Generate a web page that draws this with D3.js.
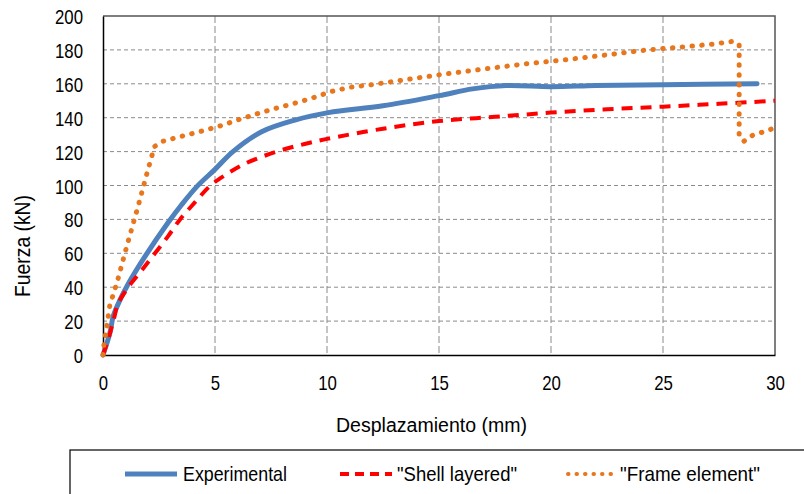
<!DOCTYPE html>
<html><head><meta charset="utf-8">
<script src="https://cdn.jsdelivr.net/npm/d3@7"></script>
<style>
html,body{margin:0;padding:0;background:#fff;}
svg{display:block;}
text{font-family:"Liberation Sans Narrow","Liberation Sans",Arial,sans-serif;fill:#000;}
</style></head>
<body>
<svg id="chart" width="804" height="494"></svg>
<script>
// ---- data ----
const xTicks = [0, 5, 10, 15, 20, 25, 30];
const yTicks = [0, 20, 40, 60, 80, 100, 120, 140, 160, 180, 200];
const seriesNames = ["Experimental", "\"Shell layered\"", "\"Frame element\""];

const expX = [0, 0.15, 0.31, 0.46, 0.76, 1.13, 1.87, 2.9, 3.5, 4.2, 5, 5.8, 7.08, 8.57, 10.06, 12.5, 15, 16.5, 18, 20, 22, 25, 29.2];
const expY = [0, 6, 13, 23, 32.5, 42, 58, 78, 88.5, 99.5, 109.5, 120, 131.7, 138.6, 143, 147, 153, 157, 159, 158.3, 159, 159.5, 160];

const shellX = [0, 0.25, 0.5, 0.66, 1.13, 1.73, 2.32, 2.9, 3.44, 4.1, 4.8, 5.5, 6.2, 7, 8, 9, 10, 12.5, 15, 17.5, 20, 22.5, 25, 27.5, 30];
const shellY = [0, 10, 22, 30, 40, 50, 60, 70, 80, 90, 100, 106.5, 112, 116.5, 121, 124.5, 127.5, 133.5, 138, 140.5, 143, 145, 146.5, 148.2, 150];

const frameX = [0, 0.05, 0.15, 0.3, 0.65, 1.1, 1.55, 2.0, 2.3, 2.65, 3.5, 4.3, 5.2, 6.0, 6.8, 7.7, 8.5, 9.3, 10.2, 11, 12, 13.6, 15.3, 17, 18.7, 20.4, 22.2, 24.3, 26, 27.3, 28.1, 28.4, 28.4, 28.6, 29, 29.4, 30];
const frameY = [0, 7, 15, 29, 44, 66, 87, 109, 123, 126, 129, 131.7, 135, 138.6, 142, 145.5, 148.3, 151.4, 155.5, 157.9, 159.5, 162.6, 165.8, 168.7, 171.5, 173.8, 176.6, 180, 181.9, 183.5, 185, 183.3, 130, 126, 129.6, 131.3, 134];

// ---- layout ----
const svg = d3.select("#chart");
const L = 103, R = 775, T = 16, B = 355;
const x = d3.scaleLinear().domain([0, 30]).range([L, R]);
const y = d3.scaleLinear().domain([0, 200]).range([B, T]);

function squeeze(sel, factor) {
  sel.each(function () {
    const w = this.getComputedTextLength();
    d3.select(this).attr("textLength", (w * factor).toFixed(1)).attr("lengthAdjust", "spacingAndGlyphs");
  });
}
function fitTo(sel, len) {
  sel.attr("textLength", len).attr("lengthAdjust", "spacingAndGlyphs");
}

// grid
const g = svg.append("g");
g.selectAll(".hg").data(yTicks.filter(v => v > 0 && v < 200)).enter().append("line")
  .attr("x1", L).attr("x2", R).attr("y1", d => y(d)).attr("y2", d => y(d))
  .attr("stroke", "#8a8a8a").attr("stroke-width", 1).attr("stroke-dasharray", "4,3");
g.selectAll(".vg").data(xTicks.filter(v => v > 0 && v < 30)).enter().append("line")
  .attr("y1", T).attr("y2", B).attr("x1", d => x(d)).attr("x2", d => x(d))
  .attr("stroke", "#8a8a8a").attr("stroke-width", 1).attr("stroke-dasharray", "7,3");

// frame border (top/right)
svg.append("path").attr("d", `M${L},${T}H${R}V${B}`).attr("fill", "none")
  .attr("stroke", "#555").attr("stroke-width", 1.5);

// axes
const xAxis = d3.axisBottom(x).tickValues(xTicks).tickSize(0).tickPadding(20);
const yAxis = d3.axisLeft(y).tickValues(yTicks).tickSize(0).tickPadding(20);
const gx = svg.append("g").attr("transform", `translate(0,${B})`).call(xAxis);
const gy = svg.append("g").attr("transform", `translate(${L},0)`).call(yAxis);
[gx, gy].forEach(a => {
  a.select(".domain").attr("stroke", "#000").attr("stroke-width", 1.5);
  a.selectAll("text").style("font-family", "'Liberation Sans Narrow','Liberation Sans',Arial,sans-serif").style("font-size", "21px").attr("fill", "#000");
  squeeze(a.selectAll("text"), 0.8);
});
gy.selectAll("text").attr("dy", "0.36em");

// axis titles
fitTo(svg.append("text").attr("x", 336).attr("y", 432)
  .style("font-family", "'Liberation Sans',Arial,sans-serif").style("font-size", "20px")
  .text("Desplazamiento (mm)"), 191);
fitTo(svg.append("text").attr("transform", "translate(30,297) rotate(-90)")
  .style("font-size", "22px")
  .text("Fuerza (kN)"), 102);

// series
const mk = (xs, ys) => xs.map((v, i) => [v, ys[i]]);
const smooth = d3.line().x(d => x(d[0])).y(d => y(d[1])).curve(d3.curveCatmullRom.alpha(0.5));
const straight = d3.line().x(d => x(d[0])).y(d => y(d[1]));

svg.append("path").attr("d", smooth(mk(expX, expY))).attr("fill", "none")
  .attr("stroke", "#4f81bd").attr("stroke-width", 5).attr("stroke-linecap", "round").attr("stroke-linejoin", "round");
svg.append("path").attr("d", smooth(mk(shellX, shellY))).attr("fill", "none")
  .attr("stroke", "#ff0000").attr("stroke-width", 4).attr("stroke-dasharray", "11,8");
svg.append("path").attr("d", straight(mk(frameX, frameY))).attr("fill", "none")
  .attr("stroke", "#e8761c").attr("stroke-width", 5).attr("stroke-linecap", "round")
  .attr("stroke-dasharray", "0.5,9.3");

// legend
const lg = svg.append("g");
lg.append("rect").attr("x", 70).attr("y", 450).attr("width", 800).attr("height", 100)
  .attr("fill", "none").attr("stroke", "#000").attr("stroke-width", 1.2);
const legItems = [
  {x1: 125, x2: 177, tx: 183, len: 104, color: "#4f81bd", w: 5, dash: null, cap: "butt"},
  {x1: 340, x2: 392, tx: 397, len: 120, color: "#ff0000", w: 4, dash: "9,6", cap: "butt"},
  {x1: 568, x2: 612, tx: 620, len: 140, color: "#e8761c", w: 4, dash: "0.5,8", cap: "round"}
];
legItems.forEach((it, i) => {
  const l = lg.append("line").attr("x1", it.x1).attr("x2", it.x2).attr("y1", 474).attr("y2", 474)
    .attr("stroke", it.color).attr("stroke-width", it.w).attr("stroke-linecap", it.cap);
  if (it.dash) l.attr("stroke-dasharray", it.dash);
  fitTo(lg.append("text").attr("x", it.tx).attr("y", 481).style("font-size", "21px").text(seriesNames[i]), it.len);
});
</script>
</body></html>
